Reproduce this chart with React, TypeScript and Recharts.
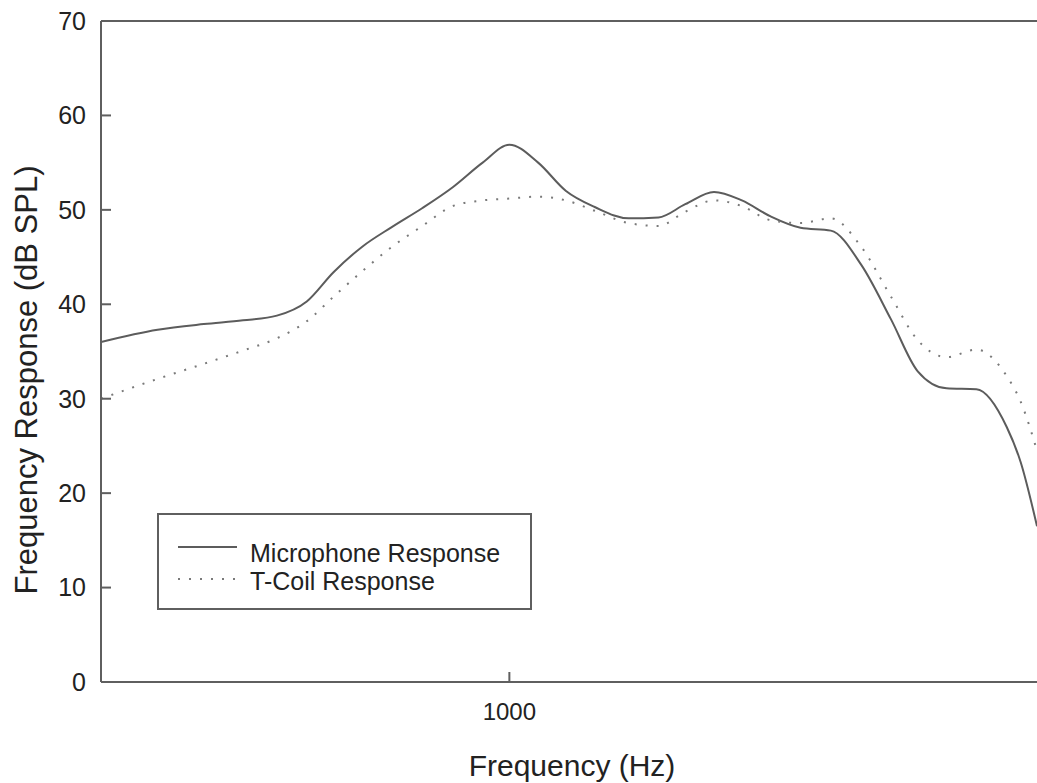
import React from 'react';
import { LineChart, Line, XAxis, YAxis, ReferenceLine, Legend } from 'recharts';

// Measurement points (Hz) and the two response curves (dB SPL)
const frequencies = [
  200, 250, 300, 350, 400, 450, 500, 560, 630, 710, 800, 900, 1000, 1120, 1250, 1400,
  1600, 1800, 2000, 2240, 2500, 2800, 3150, 3550, 4000, 4500, 5000, 5600, 6300, 7100, 7500, 8000,
];
const microphoneResponse = [
  36.0, 37.3, 37.9, 38.3, 38.8, 40.3, 43.4, 46.1, 48.2, 50.2, 52.4, 55.0, 56.9, 55.0, 52.0, 50.3,
  49.1, 49.2, 50.6, 51.9, 51.0, 49.3, 48.1, 47.8, 44.2, 38.4, 32.9, 31.1, 31.0, 27.0, 23.3, 16.5,
];
const tCoilResponse = [
  30.0, 32.1, 33.7, 35.1, 36.4, 38.2, 40.8, 43.5, 46.1, 48.3, 50.4, 51.0, 51.2, 51.4, 51.0, 49.9,
  48.6, 48.3, 49.8, 51.0, 50.4, 48.9, 48.6, 49.1, 46.1, 40.8, 36.2, 34.4, 35.2, 32.4, 29.7, 24.5,
];
const yTicks = [0, 10, 20, 30, 40, 50, 60, 70];
const xTicks = [1000];

const FONT = '"Liberation Sans", Arial, Helvetica, sans-serif';
const AXIS = '#5f5f5f';
const TEXT = '#222';

const data = frequencies.map((freq, i) => ({
  freq,
  mic: microphoneResponse[i],
  tcoil: tCoilResponse[i],
}));

function LegendBox({ payload }: any) {
  const items = payload || [];
  return (
    <svg width={375} height={97} style={{ display: 'block' }}>
      <rect x={1} y={1} width={373} height={95} fill="#fff" stroke={AXIS} strokeWidth={2} />
      {items.map((item: any, i: number) => {
        const lineY = 34 + i * 32;
        return (
          <g key={item.value}>
            <line
              x1={21}
              x2={80}
              y1={lineY}
              y2={lineY}
              stroke={item.color}
              strokeWidth={item.payload?.strokeWidth ?? 2}
              strokeDasharray={item.payload?.strokeDasharray}
            />
            <text x={93} y={49 + i * 28} fontSize={25} fontFamily={FONT} fill={TEXT}>
              {item.value}
            </text>
          </g>
        );
      })}
    </svg>
  );
}

export default function App() {
  return (
    <div style={{ position: 'absolute', left: 0, top: 0, width: 1037, height: 783, background: '#fff' }}>
      <LineChart width={1037} height={783} data={data} margin={{ top: 21, right: 0, bottom: 0, left: 0 }}>
        <XAxis
          dataKey="freq"
          type="number"
          scale="log"
          domain={[200, 8000]}
          ticks={xTicks}
          allowDataOverflow
          height={101}
          tickSize={-10}
          tickMargin={31}
          stroke={AXIS}
          strokeWidth={2}
          tick={{ fill: TEXT, fontSize: 24, fontFamily: FONT }}
          label={({ viewBox }: any) => (
            <text
              x={viewBox.x + viewBox.width / 2 + 3}
              y={776}
              textAnchor="middle"
              fontSize={30}
              fontFamily={FONT}
              fill={TEXT}
            >
              Frequency (Hz)
            </text>
          )}
        />
        <YAxis
          type="number"
          domain={[0, 70]}
          ticks={yTicks}
          width={101}
          tickSize={-10}
          tickMargin={25}
          stroke={AXIS}
          strokeWidth={2}
          tick={{ fill: TEXT, fontSize: 25, fontFamily: FONT }}
          label={() => (
            <text
              transform="translate(37,380) rotate(-90)"
              textAnchor="middle"
              fontSize={31}
              fontFamily={FONT}
              fill={TEXT}
            >
              Frequency Response (dB SPL)
            </text>
          )}
        />
        <ReferenceLine y={70} stroke={AXIS} strokeWidth={2} />
        <Line
          name="Microphone Response"
          dataKey="mic"
          type="monotone"
          stroke="#5c5c5c"
          strokeWidth={2}
          dot={false}
          isAnimationActive={false}
        />
        <Line
          name="T-Coil Response"
          dataKey="tcoil"
          type="monotone"
          stroke="#7a7a7a"
          strokeWidth={2}
          strokeDasharray="2 9"
          dot={false}
          isAnimationActive={false}
        />
        {/* centered + middle so the legend reserves no space around the plot */}
        <Legend
          layout="horizontal"
          verticalAlign="middle"
          align="center"
          content={<LegendBox />}
          wrapperStyle={{ position: 'absolute', left: 157, top: 513, width: 375, height: 97 }}
        />
      </LineChart>
    </div>
  );
}
